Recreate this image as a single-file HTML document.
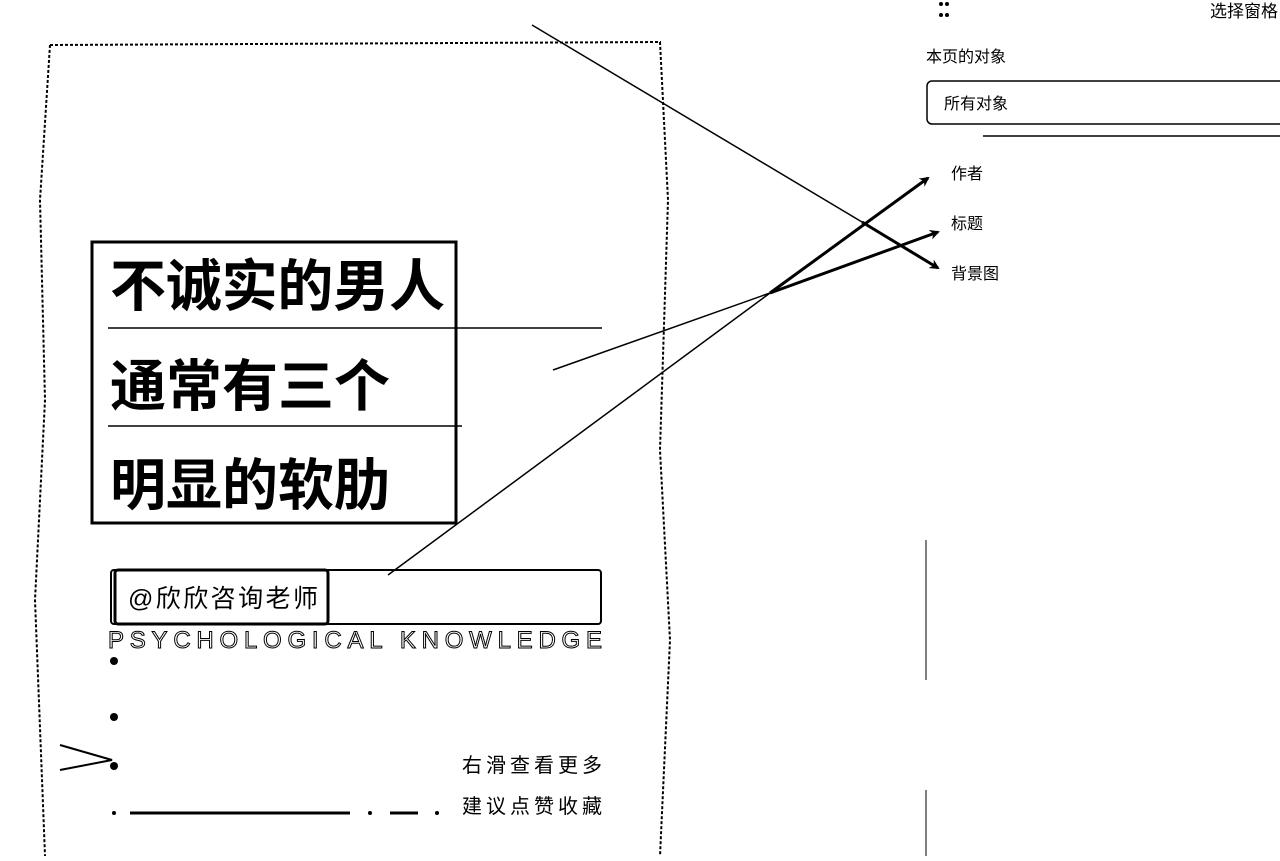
<!DOCTYPE html>
<html><head><meta charset="utf-8"><style>
body{margin:0;background:#fff;width:1280px;height:856px;overflow:hidden;font-family:"Liberation Sans","Noto Sans CJK SC",sans-serif}
</style></head><body>
<svg width="1280" height="856" xmlns="http://www.w3.org/2000/svg" font-family="Liberation Sans, Noto Sans CJK SC, sans-serif">
<defs><marker id="a" markerWidth="10" markerHeight="10" refX="8" refY="5" orient="auto" markerUnits="userSpaceOnUse"><path d="M0,0 L10,5 L0,10 L3,5 Z" fill="#000"/></marker></defs>
<g stroke="#000" fill="none" stroke-width="2" stroke-dasharray="3 2">
<path d="M50,45 L660,42 L668,200 L660,450 L670,640 L660,856"/>
<path d="M50,45 L40,200 L45,400 L35,600 L45,856"/>
</g>
<rect x="92" y="242" width="364" height="281" fill="none" stroke="#000" stroke-width="3"/>
<line x1="108" y1="328" x2="602" y2="328" stroke="#000" stroke-width="1.5"/>
<line x1="108" y1="426" x2="462" y2="426" stroke="#000" stroke-width="1.5"/>
<g font-size="56" font-weight="bold" fill="#000">
<text x="110" y="306" textLength="335">不诚实的男人</text>
<text x="110" y="406" textLength="280">通常有三个</text>
<text x="110" y="505" textLength="280">明显的软肋</text>
</g>
<rect x="111" y="570" width="490" height="54" rx="3" fill="none" stroke="#000" stroke-width="2"/>
<rect x="115" y="570" width="213" height="54" rx="3" fill="none" stroke="#000" stroke-width="3"/>
<text x="128" y="607" font-size="25" textLength="190" fill="#000">@欣欣咨询老师</text>
<text x="108" y="648" font-size="24" textLength="494" fill="none" stroke="#000" stroke-width="1">PSYCHOLOGICAL KNOWLEDGE</text>
<circle cx="114" cy="661" r="4"/><circle cx="114" cy="717" r="4"/><circle cx="114" cy="766" r="4"/>
<path d="M60,745 L112,760 L60,770" stroke="#000" fill="none" stroke-width="2"/>
<text x="462" y="772" textLength="140" font-size="20">右滑查看更多</text>
<text x="462" y="813" textLength="140" font-size="20">建议点赞收藏</text>
<g stroke="#000" stroke-width="3"><line x1="130" y1="813" x2="350" y2="813"/><line x1="390" y1="813" x2="418" y2="813"/></g>
<circle cx="114" cy="813" r="2"/><circle cx="370" cy="813" r="2"/><circle cx="437" cy="813" r="2"/>
<g stroke="#000" fill="none">
<line x1="532" y1="25" x2="862" y2="222" stroke-width="1.5"/>
<line x1="862" y1="222" x2="938" y2="268" stroke-width="3" marker-end="url(#a)"/>
<line x1="553" y1="370" x2="770" y2="293" stroke-width="1.5"/>
<line x1="770" y1="293" x2="938" y2="232" stroke-width="3" marker-end="url(#a)"/>
<line x1="388" y1="575" x2="770" y2="293" stroke-width="1.5"/>
<line x1="770" y1="293" x2="928" y2="178" stroke-width="3" marker-end="url(#a)"/>
</g>
<g fill="#000"><circle cx="941" cy="4" r="2"/><circle cx="947" cy="4" r="2"/><circle cx="941" cy="15" r="2"/><circle cx="947" cy="15" r="2"/></g>
<text x="1210" y="17" font-size="17">选择窗格</text>
<text x="926" y="62" font-size="16">本页的对象</text>
<rect x="927" y="81" width="370" height="43" rx="5" fill="none" stroke="#000" stroke-width="1.5"/>
<text x="944" y="109" font-size="16">所有对象</text>
<line x1="983" y1="136" x2="1280" y2="136" stroke="#000" stroke-width="1.5"/>
<text x="951" y="179" font-size="16">作者</text>
<text x="951" y="229" font-size="16">标题</text>
<text x="951" y="279" font-size="16">背景图</text>
<line x1="926" y1="540" x2="926" y2="680" stroke="#000"/>
<line x1="926" y1="790" x2="926" y2="856" stroke="#000"/>
</svg>
</body></html>
